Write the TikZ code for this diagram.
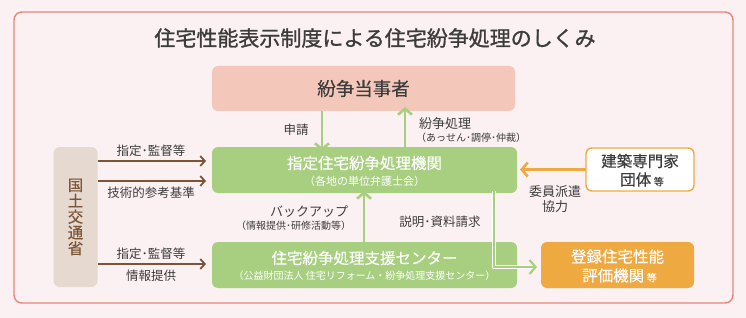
\documentclass[tikz,border=0pt]{standalone}
\usepackage{fontspec}
\setmainfont{Noto Sans CJK JP}
\usetikzlibrary{arrows.meta}
\definecolor{bgpink}{HTML}{FCF1F2}
\definecolor{framered}{HTML}{E8847B}
\definecolor{peach}{HTML}{F3C8BA}
\definecolor{leaf}{HTML}{A8CF80}
\definecolor{beige}{HTML}{E6DAD0}
\definecolor{brownc}{HTML}{7B5536}
\definecolor{orangec}{HTML}{EFA941}
\definecolor{txt}{HTML}{3C3C3C}
\newcommand{\fs}[1]{\fontsize{#1}{#1}\selectfont}
\newcommand{\semib}{\addfontfeature{FakeBold=0.25}}
\tikzset{
  boxbase/.style={rounded corners=6pt, inner sep=0pt, outer sep=0pt, align=center},
  peachbox/.style={boxbase, fill=peach, text=txt},
  greenbox/.style={boxbase, fill=leaf, text=white},
  beigebox/.style={boxbase, fill=beige, text=brownc},
  orangebox/.style={boxbase, fill=orangec, text=white},
  whitebox/.style={boxbase, fill=white, draw=orangec, line width=1.4pt, text=txt},
  lbl/.style={text=txt, inner sep=0pt, outer sep=0pt},
  brarrow/.style={draw=brownc, line width=1.8pt, -{Straight Barb[length=4.5pt,width=10pt]}},
  grarrow/.style={draw=leaf, line width=2.6pt, -{Straight Barb[length=6pt,width=14pt]}},
  orarrow/.style={draw=orangec, line width=2.6pt, -{Straight Barb[length=6pt,width=14pt]}},
}
\begin{document}
\begin{tikzpicture}[x=1pt,y=-1pt]
\fill[bgpink] (0,0) rectangle (746,318);
\useasboundingbox (0,0) rectangle (746,318);
\draw[framered, line width=1.4pt, rounded corners=8pt, fill=bgpink] (14,12) rectangle (733,303);

\node[lbl, text=txt, font=\fs{21}\addfontfeature{FakeBold=1.2}] (title) at (375,38) {住宅性能表示制度による住宅紛争処理のしくみ};

\node[peachbox, minimum width=303pt, minimum height=45pt, font=\fs{18.5}\semib] (party) at (363.5,88.5) {紛争当事者};

\node[greenbox, minimum width=305pt, minimum height=46pt] (kikan) at (364.5,170) {};
\node[lbl, text=white, font=\fs{15.5}\semib] (kikanA) at (364.5,163) {指定住宅紛争処理機関};
\node[lbl, text=white, font=\fs{11}] (kikanB) at (364.5,181) {（各地の単位弁護士会）};

\node[greenbox, minimum width=305pt, minimum height=46pt] (center) at (364.5,265) {};
\node[lbl, text=white, font=\fs{15.5}\semib] (centerA) at (364.5,258) {住宅紛争処理支援センター};
\node[lbl, text=white, font=\fs{10}] (centerB) at (364.5,275.5) {（公益財団法人 住宅リフォーム・紛争処理支援センター）};

\node[beigebox, minimum width=44pt, minimum height=140pt] (mlit) at (75.5,217) {};
\node[lbl, text=brownc, align=center, font=\fontsize{15.5}{15.8}\selectfont\semib] (mlitT) at (75.5,217) {国\\土\\交\\通\\省};

\node[whitebox, minimum width=108pt, minimum height=43pt] (expert) at (640,169.5) {};
\node[lbl, font=\fs{15.5}\semib] (expertA) at (640,161) {建築専門家};
\node[lbl, font=\fs{15.5}\semib] (expertB) at (642,179.5) {団体\,{\fs{10}等}};

\node[orangebox, minimum width=153pt, minimum height=46pt] (hyoka) at (617.5,265) {};
\node[lbl, text=white, font=\fs{15.5}\semib] (hyokaA) at (617.5,256.5) {登録住宅性能};
\node[lbl, text=white, font=\fs{15.5}\semib] (hyokaB) at (619.5,275.5) {評価機関\,{\fs{10}等}};

% brown arrows
\draw[brarrow] (mlit.east |- 0,161) -- ([xshift=-6pt]kikan.west |- 0,161);
\draw[brarrow] (mlit.east |- 0,181) -- ([xshift=-6pt]kikan.west |- 0,181);
\draw[brarrow] (mlit.east |- 0,264) -- ([xshift=-6pt]center.west |- 0,264);
\node[lbl, font=\fs{12.5}] (l1) at (151,151) {指定･監督等};
\node[lbl, font=\fs{12.5}] (l2) at (151,193) {技術的参考基準};
\node[lbl, font=\fs{12.5}] (l3) at (151,254) {指定･監督等};
\node[lbl, font=\fs{12.5}] (l4) at (151,276) {情報提供};

% green arrows
\draw[grarrow] (party.south -| 322,0) -- ([yshift=-4pt]kikan.north -| 322,0);
\node[lbl, font=\fs{12.5}] (l5) at (296,130) {申請};
\draw[grarrow] ([yshift=-2pt]kikan.north -| 405,0) -- ([yshift=4pt]party.south -| 405,0);
\node[lbl, anchor=west, font=\fs{13}] (l6) at (419,124) {紛争処理};
\node[lbl, anchor=west, font=\fs{10}] (l7) at (416,137.5) {（あっせん･調停･仲裁）};

\draw[grarrow] ([yshift=-4pt]center.north -| 364,0) -- ([yshift=2pt]kikan.south -| 364,0);
\node[lbl, anchor=east, font=\fs{13}] (l8) at (348,212) {バックアップ};
\node[lbl, anchor=east, font=\fs{10}] (l9) at (351,225.5) {（情報提供･研修活動等）};

\coordinate (bend) at (494,267);
\draw[white, line width=4.5pt, line join=round] ([yshift=2pt]kikan.south -| 494,0) -- (bend) -- ([xshift=-5pt]hyoka.west |- bend);
\draw[leaf, line width=2.2pt, -{Straight Barb[length=6pt,width=14pt]}] ([yshift=2pt]kikan.south -| 494,0) -- (bend) -- ([xshift=-4pt]hyoka.west |- bend);
\node[lbl, font=\fs{12.5}] (l10) at (440,222) {説明･資料請求};

% orange arrow
\draw[orarrow] (expert.west) -- ([xshift=3pt]kikan.east |- expert.west);
\node[lbl, font=\fs{13}] (l11) at (555,192) {委員派遣};
\node[lbl, font=\fs{13}] (l12) at (555,206.5) {協力};
\end{tikzpicture}
\end{document}
